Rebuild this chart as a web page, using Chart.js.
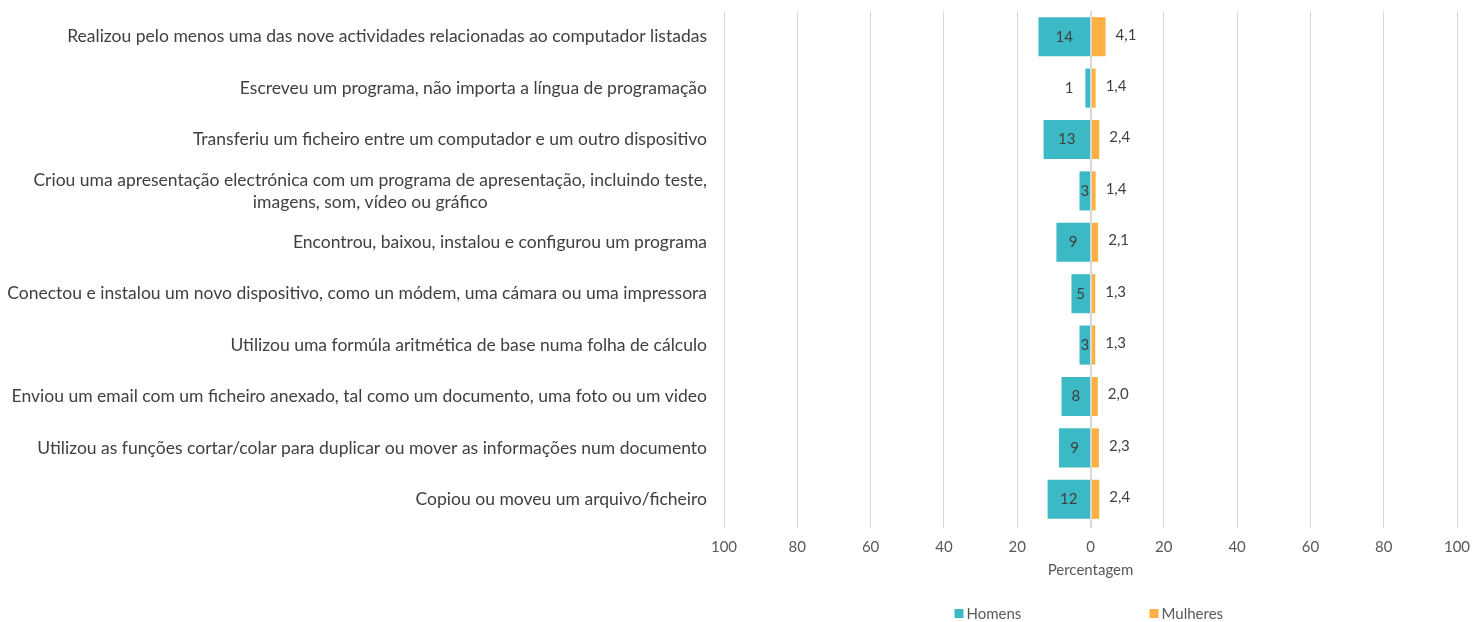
<!DOCTYPE html>
<html>
<head>
<meta charset="utf-8">
<script src="https://cdn.jsdelivr.net/npm/chart.js@4.4.0/dist/chart.umd.min.js"></script>
<style>
  html, body { margin: 0; padding: 0; background: #fff; }
  #wrap { width: 1473px; height: 622px; position: relative; }
</style>
</head>
<body>
<div id="wrap"><canvas id="myChart"></canvas></div>
<script>
const categories = [
  "Realizou pelo menos uma das nove actividades relacionadas ao computador listadas",
  "Escreveu um programa, não importa a língua de programação",
  "Transferiu um ficheiro entre um computador e um outro dispositivo",
  ["Criou uma apresentação electrónica com um programa de apresentação, incluindo teste,", "imagens, som, vídeo ou gráfico"],
  "Encontrou, baixou, instalou e configurou um programa",
  "Conectou e instalou um novo dispositivo, como un módem, uma cámara ou uma impressora",
  "Utilizou uma formúla aritmética de base numa folha de cálculo",
  "Enviou um email com um ficheiro anexado, tal como um documento, uma foto ou um video",
  "Utilizou as funções cortar/colar para duplicar ou mover as informações num documento",
  "Copiou ou moveu um arquivo/ficheiro"
];
const homens = [14.2, 1.4, 12.8, 3.0, 9.3, 5.2, 3.0, 7.9, 8.6, 11.7];
const mulheres = [4.1, 1.4, 2.4, 1.4, 2.1, 1.3, 1.3, 2.0, 2.3, 2.4];
const seriesNames = ["Homens", "Mulheres"];
const seriesColors = ["#3BB9C5", "#FDB143"];

const FONT = "Lato, Calibri, 'Liberation Sans', sans-serif";
const TEXT = "#595959";

// value labels, zero line, category labels, axis title and legend
const extras = {
  id: 'extras',
  afterDatasetsDraw(chart) {
    const ctx = chart.ctx;
    const area = chart.chartArea;
    const x0 = chart.scales.x.getPixelForValue(0);
    ctx.save();
    ctx.strokeStyle = '#d9d9d9';
    ctx.lineWidth = 1;
    ctx.beginPath();
    ctx.moveTo(Math.round(x0) + 0.5, area.top);
    ctx.lineTo(Math.round(x0) + 0.5, area.bottom + 3);
    ctx.stroke();

    ctx.font = '15px ' + FONT;
    ctx.fillStyle = '#404040';
    ctx.textBaseline = 'middle';
    chart.getDatasetMeta(0).data.forEach((bar, i) => {
      const left = Math.min(bar.x, bar.base);
      const w = Math.abs(bar.base - bar.x);
      const txt = String(Math.round(homens[i]));
      if (w < 10) {
        ctx.textAlign = 'right';
        ctx.fillText(txt, left - 12, bar.y);
      } else {
        ctx.textAlign = 'center';
        ctx.fillText(txt, (bar.x + bar.base) / 2, bar.y);
      }
    });
    chart.getDatasetMeta(1).data.forEach((bar, i) => {
      ctx.textAlign = 'left';
      ctx.fillText(mulheres[i].toFixed(1).replace('.', ','), bar.x + 10, bar.y - 2);
    });
    ctx.restore();
  },
  afterDraw(chart) {
    const ctx = chart.ctx;
    const area = chart.chartArea;
    const yScale = chart.scales.y;
    ctx.save();
    // fit category font so the longest line spans about 700px
    ctx.font = '100px ' + FONT;
    let longest = 0;
    categories.forEach(c => [].concat(c).forEach(l => { longest = Math.max(longest, ctx.measureText(l).width); }));
    const size = 700 / longest * 100;
    ctx.font = size.toFixed(2) + 'px ' + FONT;
    ctx.fillStyle = '#404040';
    ctx.textBaseline = 'middle';
    const right = area.left - 17;
    categories.forEach((c, i) => {
      const lines = [].concat(c);
      const y = yScale.getPixelForTick(i);
      const lh = 22;
      const blockW = Math.max(...lines.map(l => ctx.measureText(l).width));
      const cx = right - blockW / 2;
      lines.forEach((l, j) => {
        const ly = y + (j - (lines.length - 1) / 2) * lh;
        ctx.textAlign = lines.length > 1 ? 'center' : 'right';
        ctx.fillText(l, lines.length > 1 ? cx : right, ly);
      });
    });

    const cxArea = (area.left + area.right) / 2;
    ctx.font = '15px ' + FONT;
    ctx.fillStyle = TEXT;
    ctx.textAlign = 'center';
    ctx.fillText('Percentagem', cxArea, 570);

    const legendX = [cxArea - 136, cxArea + 59];
    ctx.textAlign = 'left';
    seriesNames.forEach((n, i) => {
      ctx.fillStyle = seriesColors[i];
      ctx.fillRect(legendX[i], 609, 9, 9);
      ctx.fillStyle = TEXT;
      ctx.fillText(n, legendX[i] + 12, 614);
    });
    ctx.restore();
  }
};

const ctx = document.getElementById('myChart').getContext('2d');
const chart = new Chart(ctx, {
  type: 'bar',
  data: {
    labels: categories,
    datasets: [{
      label: seriesNames[0],
      data: homens.map(v => -v),
      backgroundColor: seriesColors[0],
      barPercentage: 0.76,
      categoryPercentage: 1
    }, {
      label: seriesNames[1],
      data: mulheres,
      backgroundColor: seriesColors[1],
      barPercentage: 0.76,
      categoryPercentage: 1
    }]
  },
  options: {
    indexAxis: 'y',
    responsive: true,
    maintainAspectRatio: false,
    animation: false,
    layout: { padding: { top: 11, right: 16, left: 0, bottom: 0 } },
    plugins: {
      legend: { display: false },
      tooltip: { enabled: false }
    },
    scales: {
      x: {
        stacked: true,
        min: -100,
        max: 100,
        ticks: {
          stepSize: 20,
          color: TEXT,
          font: { family: FONT, size: 15 },
          padding: 10,
          callback: v => Math.abs(v)
        },
        grid: { color: '#d9d9d9', tickLength: 3 },
        border: { display: false },
        afterFit: s => { s.height = 97; s.paddingLeft = 0; s.paddingRight = 0; }
      },
      y: {
        stacked: true,
        ticks: { display: false },
        grid: { display: false },
        border: { display: false },
        afterFit: s => { s.width = 724; }
      }
    }
  },
  plugins: [extras]
});
</script>
</body>
</html>
